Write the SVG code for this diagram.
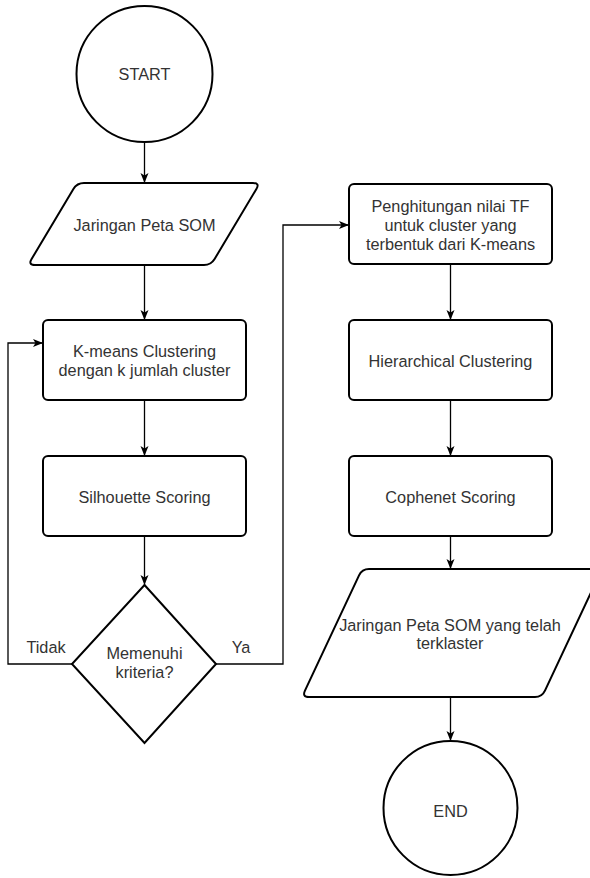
<svg xmlns="http://www.w3.org/2000/svg" width="590" height="878" viewBox="0 0 590 878">
<defs>
<style>
.shape{fill:#fff;stroke:#000;stroke-width:2}
.edge{fill:none;stroke:#000;stroke-width:1.3}
text{font-family:"Liberation Sans",Arial,Helvetica,sans-serif;font-size:16.3px;fill:#333;text-anchor:middle}
</style>
<marker id="arr" markerUnits="userSpaceOnUse" markerWidth="10" markerHeight="10" viewBox="0 0 10 10" refX="10" refY="5" orient="auto">
<path d="M0,1 L10,5 L0,9 L2.5,5 Z" fill="#000"/>
</marker>
</defs>
<rect width="590" height="878" fill="#fff"/>
<g id="connectors">
<path class="edge" d="M144.5,143 V183" marker-end="url(#arr)"/>
<path class="edge" d="M144.5,265 V320" marker-end="url(#arr)"/>
<path class="edge" d="M144.5,400 V456" marker-end="url(#arr)"/>
<path class="edge" d="M144.5,536 V585" marker-end="url(#arr)"/>
<path class="edge" d="M72,664 H8 V343 H43" marker-end="url(#arr)"/>
<path class="edge" d="M216,664 H283 V225 H349" marker-end="url(#arr)"/>
<path class="edge" d="M450.5,264 V320" marker-end="url(#arr)"/>
<path class="edge" d="M450.5,400 V456" marker-end="url(#arr)"/>
<path class="edge" d="M450.5,536 V569" marker-end="url(#arr)"/>
<path class="edge" d="M450.5,697 V741" marker-end="url(#arr)"/>
<text x="46" y="653">Tidak</text>
<text x="241" y="653">Ya</text>
</g>
<g id="start">
<circle class="shape" cx="144.5" cy="74" r="68"/>
<text x="144.5" y="80">START</text>
</g>
<g id="input">
<path class="shape" d="M84,183 L253,183 Q260,183 256.4,189 L214.6,259 Q211,265 204,265 L35,265 Q28,265 31.6,259 L73.4,189 Q77,183 84,183 Z"/>
<text x="144.5" y="231">Jaringan Peta SOM</text>
</g>
<g id="kmeans">
<rect class="shape" x="43" y="320" width="203" height="80" rx="5"/>
<text x="144.5" y="357">K-means Clustering</text>
<text x="144.5" y="376">dengan k jumlah cluster</text>
</g>
<g id="silhouette">
<rect class="shape" x="43" y="456" width="203" height="80" rx="5"/>
<text x="144.5" y="503">Silhouette Scoring</text>
</g>
<g id="decision">
<path class="shape" d="M144.5,585 L216,664 L144.5,743 L72,664 Z"/>
<text x="144.5" y="659">Memenuhi</text>
<text x="144.5" y="678">kriteria?</text>
</g>
<g id="tf">
<rect class="shape" x="349" y="184" width="203" height="80" rx="5"/>
<text x="450.5" y="212">Penghitungan nilai TF</text>
<text x="450.5" y="231">untuk cluster yang</text>
<text x="450.5" y="250">terbentuk dari K-means</text>
</g>
<g id="hierarchical">
<rect class="shape" x="349" y="320" width="203" height="80" rx="5"/>
<text x="450.5" y="367">Hierarchical Clustering</text>
</g>
<g id="cophenet">
<rect class="shape" x="349" y="456" width="203" height="80" rx="5"/>
<text x="450.5" y="503">Cophenet Scoring</text>
</g>
<g id="output">
<path class="shape" d="M369,569 L595,569 Q602,569 599.03,575.34 L544.97,690.66 Q542,697 535,697 L309,697 Q302,697 304.97,690.66 L359.03,575.34 Q362,569 369,569 Z"/>
<text x="450" y="631">Jaringan Peta SOM yang telah</text>
<text x="450" y="649">terklaster</text>
</g>
<g id="end">
<circle class="shape" cx="450.5" cy="808" r="67"/>
<text x="450.5" y="817">END</text>
</g>
</svg>
